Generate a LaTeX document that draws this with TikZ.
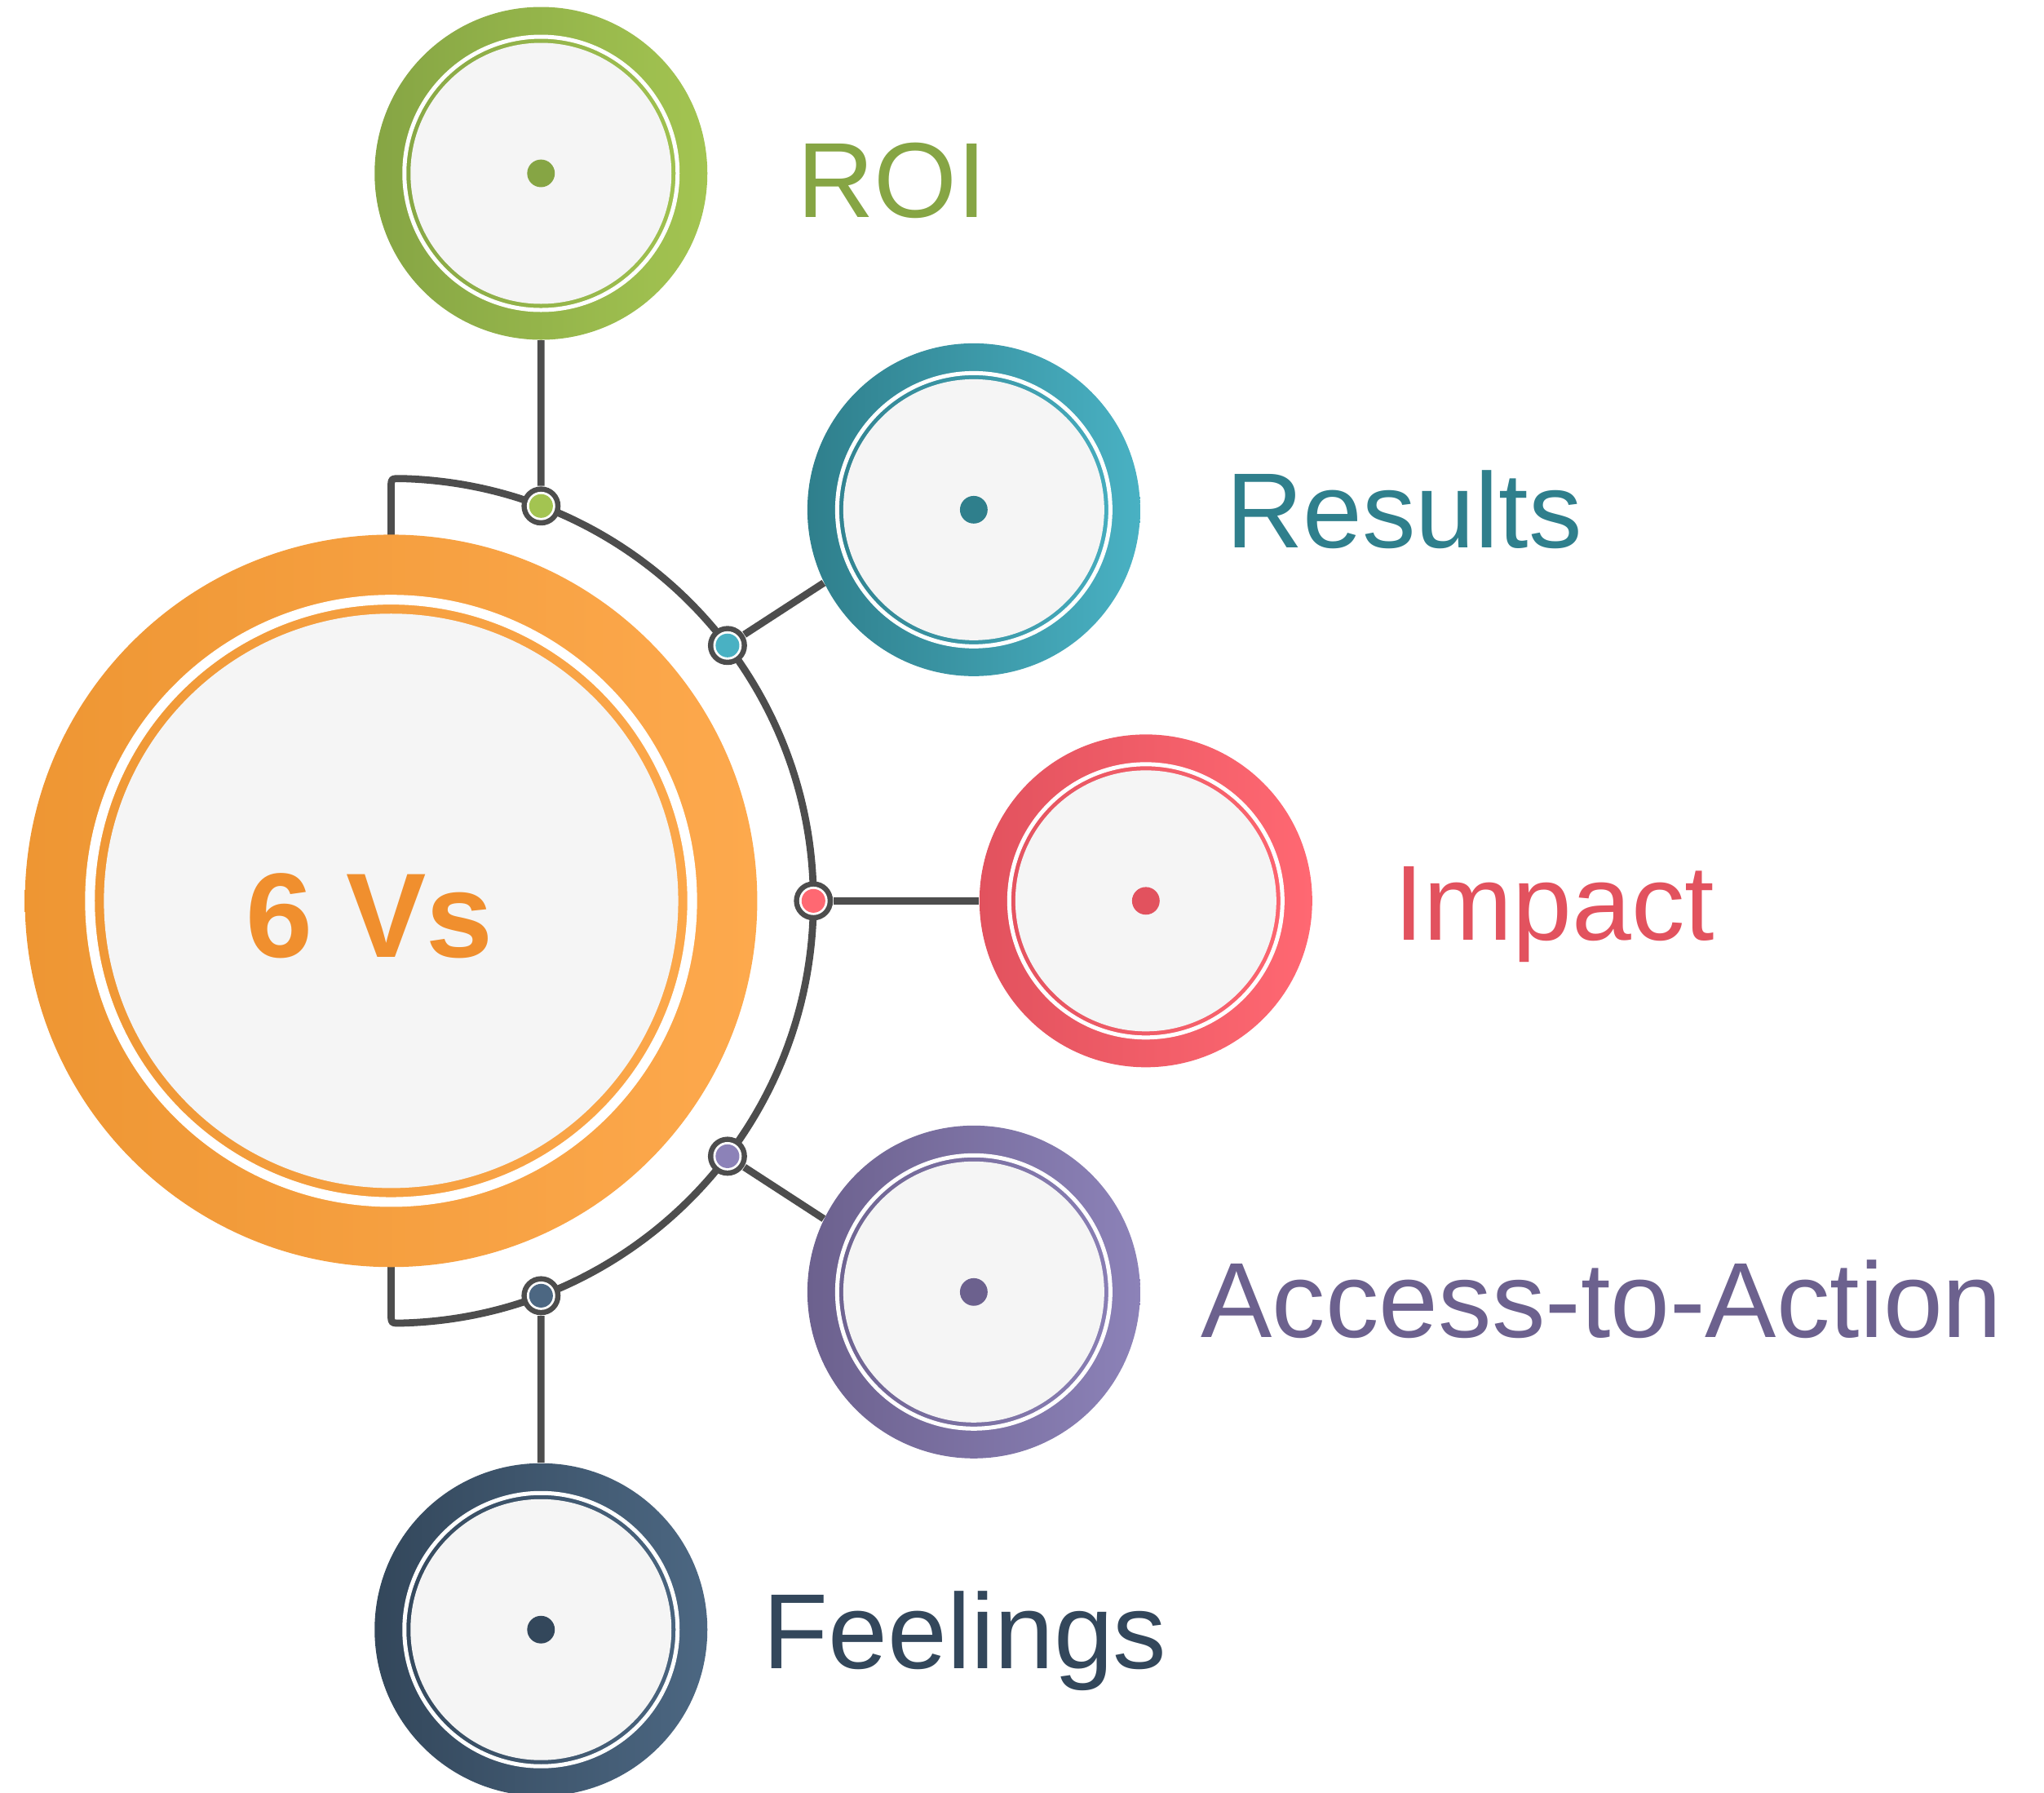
\documentclass[tikz,border=0pt]{standalone}
\usepackage{fontspec}
\setmainfont{Liberation Sans}
\usepackage{xcolor}
\usetikzlibrary{calc, positioning}
\definecolor{wire}{HTML}{4D4D4D}
\definecolor{paper}{HTML}{F5F5F5}
\definecolor{hubA}{HTML}{EE9633}
\definecolor{hubB}{HTML}{FDA94D}
\definecolor{hubT}{HTML}{F08F2E}
\definecolor{roiA}{HTML}{86A544}
\definecolor{roiB}{HTML}{A3C451}
\definecolor{resA}{HTML}{2F7F8C}
\definecolor{resB}{HTML}{49B1C3}
\definecolor{impA}{HTML}{E2525E}
\definecolor{impB}{HTML}{FF6872}
\definecolor{accA}{HTML}{6C618E}
\definecolor{accB}{HTML}{8C82B8}
\definecolor{feeA}{HTML}{33475B}
\definecolor{feeB}{HTML}{4C6782}

\begin{document}
\begin{tikzpicture}
  [x=0.016cm, y=0.016cm,
   link/.style={draw=wire, line width=2.5pt},
   hub/.style={circle, inner sep=0pt, minimum size=8.992cm},
   bubble/.style={circle, inner sep=0pt, minimum size=4.086cm},
   joint/.style={circle, inner sep=0pt, minimum size=0.48cm, fill=wire},
   tag/.style={anchor=base west, inner sep=0pt, font=\fontsize{37.3}{37.3}\selectfont}]
  \useasboundingbox (0,0) rectangle (1568,1375);
  \coordinate (c) at (300,684);
  \draw[link] (300,950) -- (300,1000) .. controls (300,1008) .. (307.9,1007.9)
    arc[start angle=88.6, end angle=-88.6, radius=324]
    .. controls (300,360) .. (300,368) -- (300,420);
  \node[hub, left color=hubA, right color=hubB] (hub) at (c) {};
  \draw[white, line width=3.4pt] (hub) circle[radius=231];
  \fill[paper] (hub) circle[radius=220.3];
  \node[font=\bfseries\fontsize{42}{42}\selectfont, text=hubT, anchor=base, inner sep=0pt]
    (title) at (283.5,641) {6 Vs};
  \foreach \nm/\ang/\cx/\cy/\anc/\lbl/\lx/\ly in {
      roi/69.2/415/1242/270/ROI/611/1208,
      res/37.2/747/984/206/Results/940/955,
      imp/0/879/684/180/Impact/1069/654,
      acc/-37.2/747/384/154/Access-to-Action/921/349,
      fee/-69.2/415/125/90/Feelings/585/95}{
    \node[joint] (j\nm) at ($(c)+(\ang:324)$) {};
    \fill[white] (j\nm) circle[radius=10.9];
    \fill[\nm B] (j\nm) circle[radius=9.1];
    \node[bubble, left color=\nm A, right color=\nm B] (\nm) at (\cx,\cy) {};
    \draw[link] (j\nm) -- (\nm.\anc);
    \draw[white, line width=1.42pt] (\nm) circle[radius=104.8];
    \fill[paper] (\nm) circle[radius=100.1];
    \fill[\nm A] (\nm) circle[radius=10.6];
    \node[tag, text=\nm A] (t\nm) at (\lx,\ly) {\lbl};
  }
\end{tikzpicture}
\end{document}
